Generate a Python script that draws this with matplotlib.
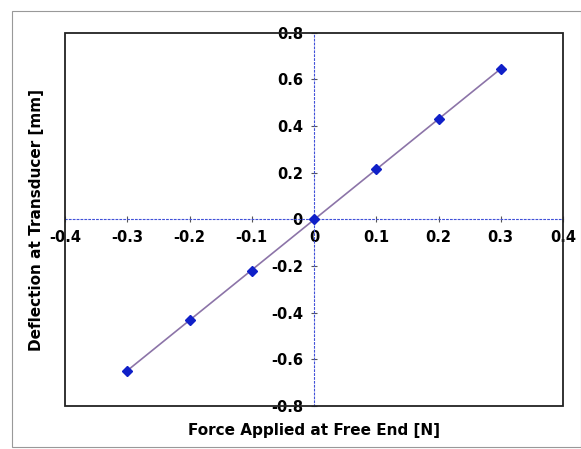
import matplotlib.pyplot as plt
from matplotlib.patches import Rectangle
import numpy as np

force = [-0.3, -0.2, -0.1, 0.0, 0.1, 0.2, 0.3]
deflection = [-0.65, -0.43, -0.22, 0.0, 0.215, 0.43, 0.645]
x_ticks = [-0.4, -0.3, -0.2, -0.1, 0, 0.1, 0.2, 0.3, 0.4]
y_ticks = [-0.8, -0.6, -0.4, -0.2, 0, 0.2, 0.4, 0.6, 0.8]

fig = plt.figure(figsize=(5.81, 4.49), dpi=100)
ax = fig.add_axes([0.112, 0.096, 0.857, 0.831])

# trendline (least squares through the points)
k, b = np.polyfit(force, deflection, 1)
xs = np.array([force[0], force[-1]])
ax.plot(xs, k * xs + b, color='#8c74a8', linewidth=1.2, zorder=2)
ax.plot(force, deflection, linestyle='none', marker='D', markersize=5,
        color='#1020c8', zorder=3)

ax.set_xlim(-0.4, 0.4)
ax.set_ylim(-0.8, 0.8)

# axes cross at zero, dotted blue
for side in ['left', 'bottom']:
    ax.spines[side].set_position(('data', 0))
    ax.spines[side].set_linestyle((0, (1.5, 2)))
    ax.spines[side].set_color('#4050d8')
    ax.spines[side].set_linewidth(0.8)
ax.spines['top'].set_visible(False)
ax.spines['right'].set_visible(False)
ax.add_patch(Rectangle((0, 0), 1, 1, transform=ax.transAxes, fill=False,
                       edgecolor='#222222', linewidth=1.3, clip_on=False, zorder=4))

ax.set_xticks(x_ticks)
ax.set_yticks(y_ticks)
ax.set_xticklabels(['-0.4', '-0.3', '-0.2', '-0.1', '0', '0.1', '0.2', '0.3', '0.4'])
ax.set_yticklabels(['-0.8', '-0.6', '-0.4', '-0.2', '0', '0.2', '0.4', '0.6', '0.8'])
ax.tick_params(direction='inout', length=4, width=0.8, color='#555555',
               labelsize=10.5, pad=6)
for lbl in ax.get_xticklabels() + ax.get_yticklabels():
    lbl.set_fontweight('bold')

fig.text(0.54, 0.042, 'Force Applied at Free End [N]', ha='center', va='center',
         fontsize=11, fontweight='bold')
fig.text(0.062, 0.51, 'Deflection at Transducer [mm]', ha='center', va='center',
         rotation=90, fontsize=11, fontweight='bold')

fig.patches.append(Rectangle((0.02, 0.005), 0.98, 0.97, transform=fig.transFigure,
                             fill=False, edgecolor='#999999', linewidth=0.8))

fig.savefig('out.png', dpi=100)
